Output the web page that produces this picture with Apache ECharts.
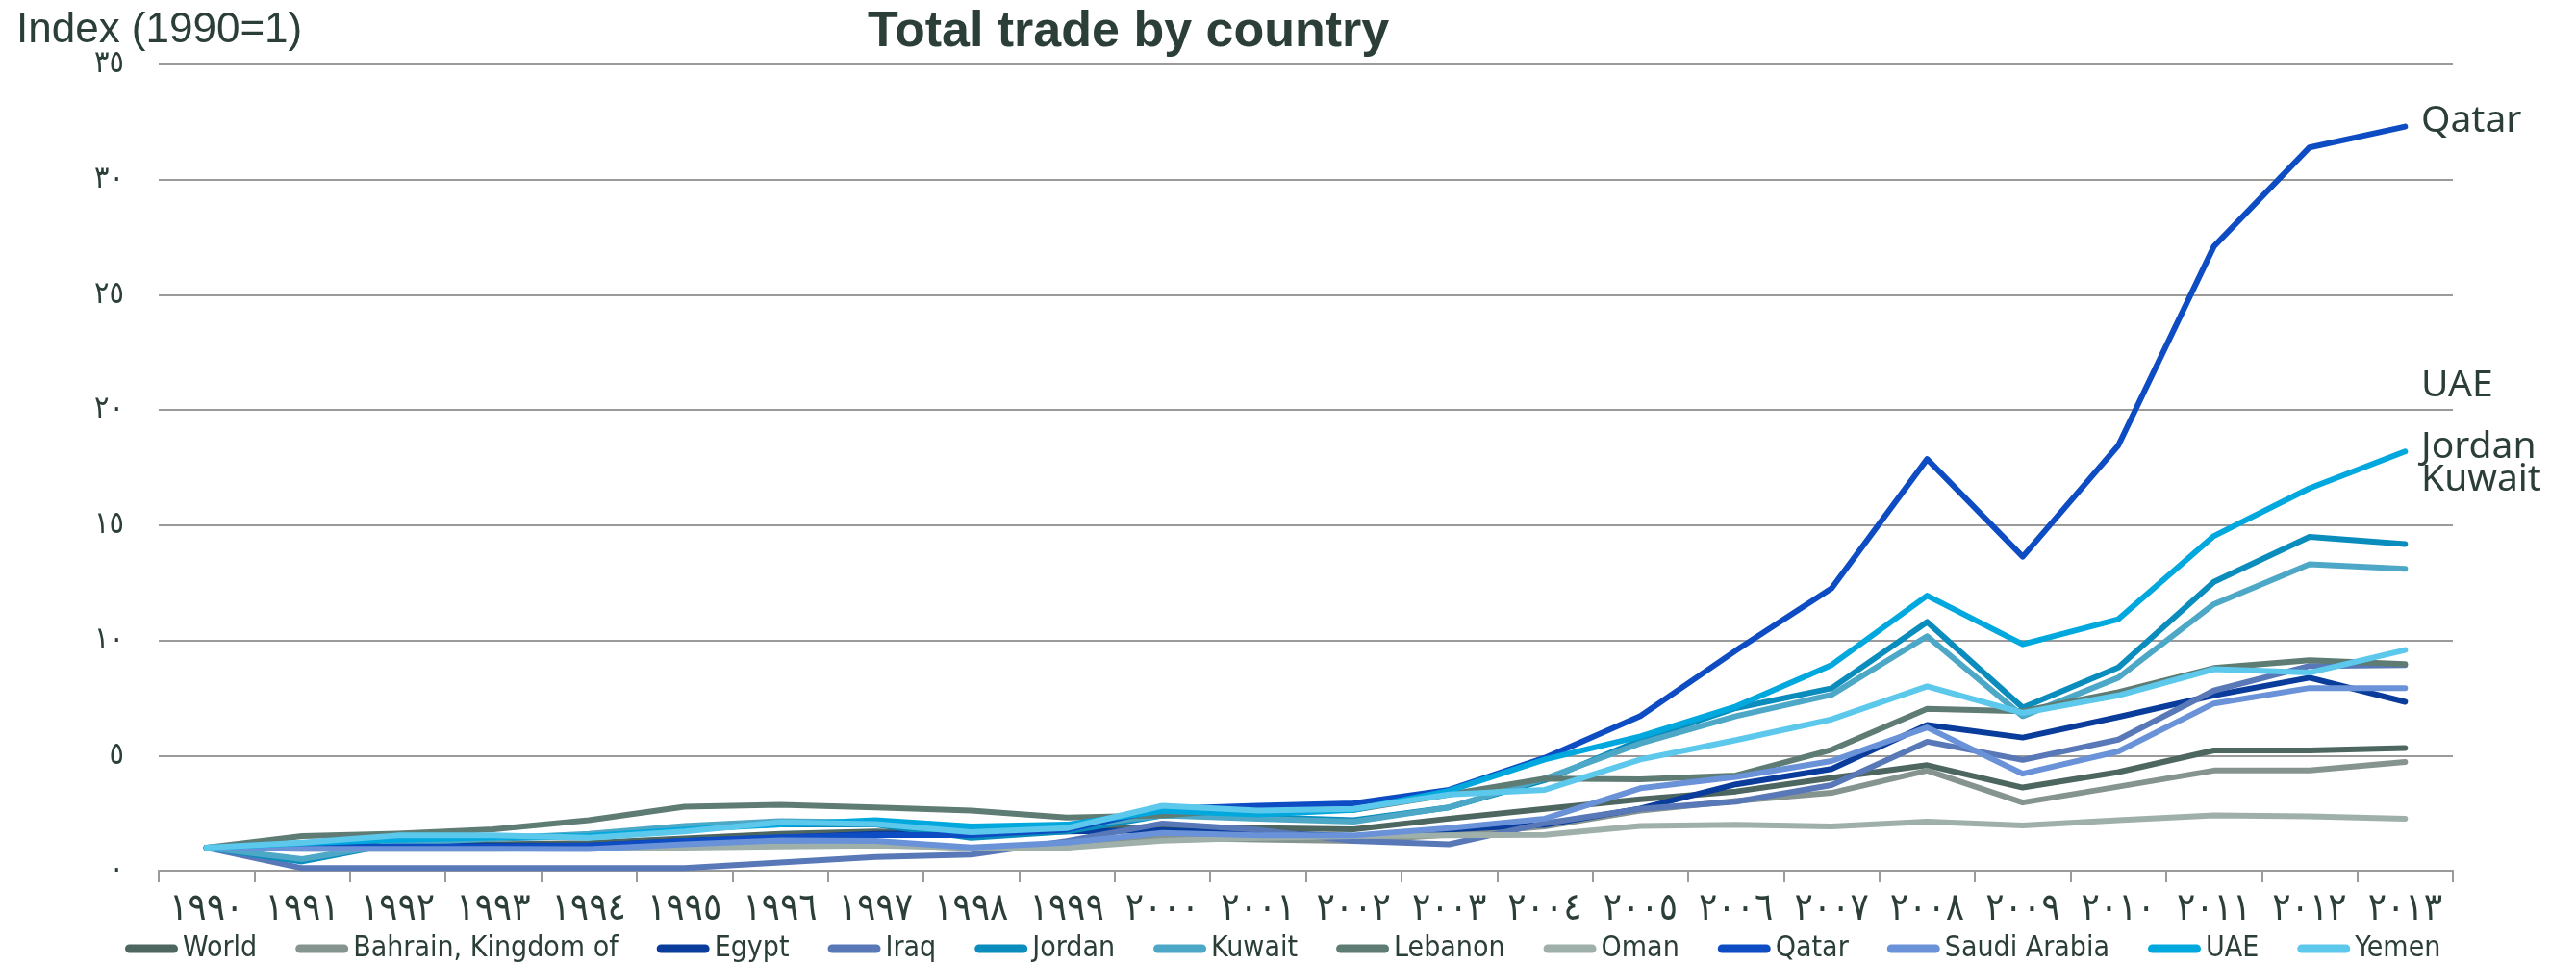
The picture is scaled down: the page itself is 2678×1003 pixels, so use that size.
<!DOCTYPE html>
<html>
<head>
<meta charset="utf-8">
<style>
html,body{margin:0;padding:0;background:#fff;}
#chart{width:2678px;height:1003px;}
</style>
<script src="https://cdn.jsdelivr.net/npm/echarts@6/dist/echarts.min.js"></script>
</head>
<body>
<div id="chart"></div>
<script>
// Categories (Arabic-Indic year labels, 1990–2013)
const years = ['١٩٩٠','١٩٩١','١٩٩٢','١٩٩٣','١٩٩٤','١٩٩٥','١٩٩٦','١٩٩٧','١٩٩٨','١٩٩٩','٢٠٠٠','٢٠٠١','٢٠٠٢','٢٠٠٣','٢٠٠٤','٢٠٠٥','٢٠٠٦','٢٠٠٧','٢٠٠٨','٢٠٠٩','٢٠١٠','٢٠١١','٢٠١٢','٢٠١٣'];
// Y tick labels (0..35 step 5)
const yTickLabels = ['٠','٥','١٠','١٥','٢٠','٢٥','٣٠','٣٥'];

const seriesNames = ['World','Bahrain, Kingdom of','Egypt','Iraq','Jordan','Kuwait','Lebanon','Oman','Qatar','Saudi Arabia','UAE','Yemen'];

const world   = [1.0,1.05,1.1,1.15,1.2,1.4,1.6,1.7,1.6,1.75,1.92,1.85,1.8,2.26,2.68,3.1,3.44,4.03,4.58,3.61,4.28,5.22,5.22,5.32];
const bahrain = [1.0,1.0,1.02,1.03,1.05,1.1,1.15,1.15,0.98,1.01,1.43,1.36,1.29,1.57,1.92,2.61,3.03,3.38,4.35,2.96,3.65,4.35,4.35,4.72];
const egypt   = [1.0,1.0,1.08,1.1,1.1,1.3,1.43,1.6,1.64,1.7,1.75,1.64,1.5,1.78,1.99,2.7,3.75,4.42,6.33,5.78,6.67,7.61,8.38,7.33];
const iraq    = [1.0,0.11,0.11,0.11,0.11,0.11,0.36,0.6,0.7,1.29,2.05,1.78,1.29,1.15,2.06,2.68,3.0,3.72,5.6,4.81,5.69,7.82,8.89,8.93];
const jordan  = [1.0,0.4,1.2,1.4,1.5,1.9,2.0,2.0,1.43,1.7,2.4,2.33,2.19,2.75,3.93,5.67,7.06,7.92,10.8,7.08,8.82,12.54,14.49,14.18];
const kuwait  = [1.0,0.5,1.2,1.4,1.6,1.94,2.15,2.1,1.9,1.9,2.4,2.26,2.13,2.75,4.0,5.53,6.71,7.64,10.18,6.71,8.38,11.57,13.3,13.1];
const lebanon = [1.0,1.5,1.61,1.8,2.19,2.78,2.86,2.75,2.61,2.31,2.4,2.7,2.64,3.31,4.0,3.97,4.14,5.25,7.03,6.92,7.75,8.8,9.14,8.97];
const oman    = [1.0,0.95,0.95,0.95,1.0,1.0,1.05,1.1,1.0,1.0,1.3,1.43,1.5,1.53,1.56,1.94,1.99,1.92,2.13,1.96,2.19,2.4,2.36,2.26];
const qatar   = [1.0,1.0,1.05,1.05,1.1,1.3,1.45,1.55,1.55,1.78,2.68,2.82,2.92,3.51,4.9,6.71,9.56,12.26,17.87,13.63,18.46,27.1,31.4,32.3];
const saudi   = [1.0,0.95,0.95,0.95,0.94,1.15,1.32,1.29,1.01,1.22,1.64,1.53,1.53,1.85,2.26,3.58,4.07,4.76,6.22,4.21,5.18,7.26,7.93,7.93];
const uae     = [1.0,1.2,1.35,1.45,1.5,1.78,2.0,2.19,1.92,2.0,2.6,2.44,2.64,3.47,4.83,5.83,7.13,8.93,11.94,9.83,10.92,14.53,16.6,18.2];
const yemen   = [1.0,1.22,1.53,1.53,1.43,1.7,2.1,2.03,1.67,1.85,2.82,2.61,2.68,3.31,3.51,4.83,5.67,6.57,8.0,6.85,7.61,8.75,8.6,9.58];

const seriesData = [world,bahrain,egypt,iraq,jordan,kuwait,lebanon,oman,qatar,saudi,uae,yemen];
const colors = ['#4d6660','#869490','#0a3c9c','#5878b8','#0a8cbc','#4ca8c6','#5f7c74','#9fb0aa','#0d4cc2','#6a92d8','#00a8de','#5cc8ec'];

const TXT = '#2b3f38';
const ARFONT = '"DejaVu Sans Condensed","DejaVu Sans",sans-serif';
const chart = echarts.init(document.getElementById('chart'));

const capsule = 'path://M5,0 L55,0 A5,5 0 0 1 55,10 L5,10 A5,5 0 0 1 5,0 Z';

chart.setOption({
  animation: false,
  color: colors,
  title: {
    text: 'Total trade by country',
    left: 897, top: 3,
    textStyle: {fontFamily: '"Liberation Sans",Arial,sans-serif', fontWeight: 'bold', fontSize: 52, color: TXT}
  },
  grid: {left: 165, right: 128, top: 67, bottom: 98, containLabel: false},
  legend: {
    data: seriesNames,
    left: 125, top: 966,
    icon: capsule,
    itemWidth: 55, itemHeight: 10, itemGap: 40,
    textStyle: {fontFamily: '"DejaVu Sans Condensed","Liberation Sans Narrow",sans-serif', fontSize: 30, color: TXT}
  },
  xAxis: {
    type: 'category',
    data: years,
    boundaryGap: true,
    axisLine: {show: true, lineStyle: {color: '#9a9a9a', width: 2}},
    axisTick: {show: true, length: 12, lineStyle: {color: '#9a9a9a', width: 2}},
    axisLabel: {margin: 21, fontFamily: ARFONT, fontSize: 40, color: TXT, interval: 0}
  },
  yAxis: {
    type: 'value', min: 0, max: 35, interval: 5,
    axisLine: {show: false}, axisTick: {show: false},
    splitLine: {lineStyle: {color: '#9a9a9a', width: 2}},
    axisLabel: {margin: 36, fontFamily: ARFONT, fontSize: 32, color: TXT,
      formatter: v => yTickLabels[Math.round(v / 5)]}
  },
  series: seriesNames.map((n, i) => ({
    name: n, type: 'line', data: seriesData[i],
    symbol: 'none', showSymbol: false,
    lineStyle: {width: 6, color: colors[i], cap: 'round', join: 'round'},
    itemStyle: {color: colors[i]}
  })),
  graphic: [
    {type: 'text', left: 17, top: 10, style: {text: 'Index (1990=1)', fontFamily: '"Liberation Sans",Arial,sans-serif', fontSize: 44, fill: TXT}},
    {type: 'text', left: 2517, top: 106, style: {text: 'Qatar', fontFamily: '"Noto Sans",sans-serif', fontSize: 39, fill: TXT}},
    {type: 'text', left: 2517, top: 381, style: {text: 'UAE', fontFamily: '"Noto Sans",sans-serif', fontSize: 39, fill: TXT}},
    {type: 'text', left: 2517, top: 445, style: {text: 'Jordan\nKuwait', fontFamily: '"Noto Sans",sans-serif', fontSize: 39, lineHeight: 34, fill: TXT}}
  ]
});
</script>
</body>
</html>
